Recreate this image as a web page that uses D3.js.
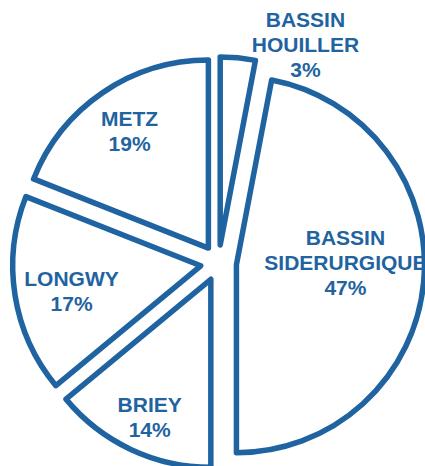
<!DOCTYPE html>
<html>
<head>
<meta charset="utf-8">
<script src="https://cdn.jsdelivr.net/npm/d3@7"></script>
<style>
  html, body { margin: 0; padding: 0; background: #fff; overflow: hidden; }
  svg { display: block; }
</style>
</head>
<body>
<div id="chart"></div>
<script>
// data, clockwise from 12 o'clock
const names = ["BASSIN\nHOUILLER", "BASSIN\nSIDERURGIQUE", "BRIEY", "LONGWY", "METZ"];
const shares = [3, 47, 14, 17, 19];

// label placement (distance as share of radius, angle in degrees) measured from slice tip
const labelDist = [1.16, 0.58, 0.80, 0.70, 0.75];
const labelAngle = [23, 89, 204, 259, 326];

// constants
const width = 425, height = 466;
const cx = 218.5, cy = 263;
const r = 188;
const explode = 18;
const blue = "#1f63a1";

const svg = d3.select("#chart")
  .append("svg")
  .attr("width", width)
  .attr("height", height);

const pie = d3.pie().sort(null).value(d => d.value);
const arc = d3.arc().innerRadius(0).outerRadius(r);

const slices = pie(names.map((n, i) => ({name: n, value: shares[i], i: i})));

// shift every slice out along its middle angle
function offset(d) {
  const a = (d.startAngle + d.endAngle) / 2;
  return [cx + explode * Math.sin(a), cy - explode * Math.cos(a)];
}

const g = svg.selectAll(".slice")
    .data(slices)
  .enter().append("g")
    .attr("class", "slice")
    .attr("transform", d => `translate(${offset(d)})`);

g.append("path")
  .attr("d", arc)
  .attr("fill", "#fff")
  .attr("stroke", blue)
  .attr("stroke-width", 5.5)
  .attr("stroke-linejoin", "round");

const labels = g.append("text")
  .attr("text-anchor", "middle")
  .attr("fill", blue)
  .style("font-family", "'Liberation Sans', Arial, sans-serif")
  .style("font-weight", "bold")
  .style("font-size", "21px")
  .attr("transform", d => {
    const i = d.data.i;
    const a = labelAngle[i] * Math.PI / 180;
    const dist = labelDist[i] * r;
    return `translate(${dist * Math.sin(a)},${-dist * Math.cos(a)})`;
  });

labels.each(function(d) {
  const lines = d.data.name.split("\n").concat([d.data.value + "%"]);
  const n = lines.length;
  d3.select(this).selectAll("tspan")
      .data(lines)
    .enter().append("tspan")
      .attr("x", 0)
      .attr("y", (l, k) => (k - (n - 1) / 2) * 25 + 7.5)
      .text(l => l);
});
</script>
</body>
</html>
